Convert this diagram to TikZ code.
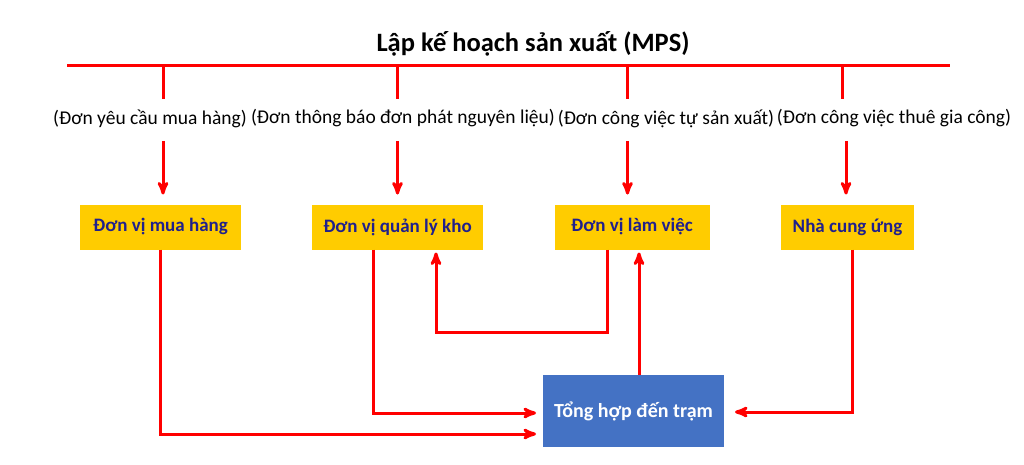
\documentclass[tikz,border=0pt]{standalone}
\usepackage{fontspec}
\setmainfont{Carlito}
\usepackage{tikz}
\usetikzlibrary{arrows,positioning}
\definecolor{mpsred}{RGB}{255,0,0}
\definecolor{mpsyellow}{RGB}{255,204,0}
\definecolor{mpsnavy}{RGB}{32,32,140}
\definecolor{mpsblue}{RGB}{68,114,196}
\begin{document}
\begin{tikzpicture}[x=1pt,y=-1pt,->,>=stealth',line width=3pt,
                    draw=mpsred]
\tikzstyle{every node}=[inner sep=0pt,outer sep=0pt]
\tikzstyle{unit}=[fill=mpsyellow,text=mpsnavy,font=\bfseries\fontsize{19}{22}\selectfont,minimum height=45pt]
\tikzstyle{order}=[font=\fontsize{19.5}{23}\selectfont]
\useasboundingbox (0,0) rectangle (1024,465);
\node [font=\bfseries\fontsize{26.5}{31}\selectfont] (title) at (533,44) {Lập kế hoạch sản xuất (MPS)};
\coordinate (barl) at (67,66);
\coordinate (barr) at (950,66);
\coordinate (drop) at (0,99);
\coordinate (feed) at (0,141);
\node [unit,minimum width=161pt] (1) at (160.5,227) {Đơn vị mua hàng};
\node [unit,minimum width=171pt] (2) at (397.5,227) {Đơn vị quản lý kho};
\node [unit,minimum width=155pt] (3) at (632,227) {Đơn vị làm việc};
\node [unit,minimum width=133pt] (4) at (847.5,227) {Nhà cung ứng};
\node [order] (o1) at (150,118.5) {(Đơn yêu cầu mua hàng)};
\node [order] (o2) at (403,118.5) {(Đơn thông báo đơn phát nguyên liệu)};
\node [order] (o3) at (666,118.5) {(Đơn công việc tự sản xuất)};
\node [order] (o4) at (894,118.5) {(Đơn công việc thuê gia công)};
\node [fill=mpsblue,text=white,font=\bfseries\fontsize{20}{24}\selectfont,
       minimum width=181pt,minimum height=72pt] (hub) at (633.5,411) {Tổng hợp đến trạm};

\draw [-] (barl) -- (barr);
\draw [-] ([xshift=2.5pt]1.north |- barl) -- ([xshift=2.5pt]1.north |- drop);
\draw [-] (2.north |- barl) -- (2.north |- drop);
\draw [-] ([xshift=-5pt]3.north |- barl) -- ([xshift=-5pt]3.north |- drop);
\draw [-] ([xshift=-5.5pt]4.north |- barl) -- ([xshift=-5.5pt]4.north |- drop);

\draw [shorten >=10pt] ([xshift=2.5pt]1.north |- feed) -- ([xshift=2.5pt]1.north);
\draw [shorten >=10pt] (2.north |- feed) -- (2.north);
\draw [shorten >=10pt] ([xshift=-4.5pt]3.north |- feed) -- ([xshift=-4.5pt]3.north);
\draw [shorten >=10pt] ([xshift=-1.5pt]4.north |- feed) -- ([xshift=-1.5pt]4.north);

\draw [shorten >=7pt] (1.south) |- ([yshift=-23pt]hub.west);
\draw [shorten >=7pt] ([xshift=-24.5pt]2.south) |- ([yshift=-2pt]hub.west);
\draw [shorten >=3pt] ([xshift=-25pt]3.south) -- ++(0,83) -| ([xshift=38.5pt]2.south);
\draw [shorten >=3pt] ([xshift=5.5pt]hub.north) -- ([xshift=5.5pt]hub.north |- 3.south);
\draw [shorten >=11pt] ([xshift=4.5pt]4.south) |- ([yshift=-1pt]hub.east);
\end{tikzpicture}
\end{document}
